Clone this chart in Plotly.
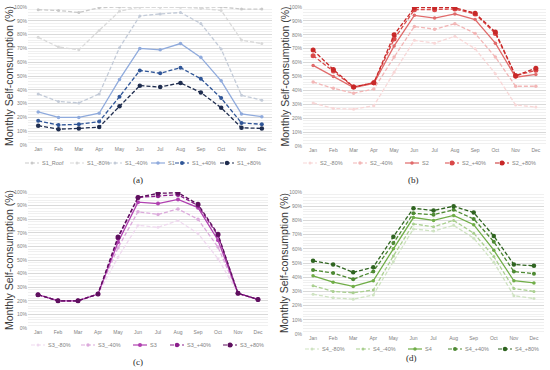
import plotly.graph_objects as go

months = ["Jan", "Feb", "Mar", "Apr", "May", "Jun", "Jul", "Aug", "Sep", "Oct", "Nov", "Dec"]

# Panel (a)
s1_names = ["S1_Roof", "S1_-80%", "S1_-40%", "S1", "S1_+40%", "S1_+80%"]
s1_roof = [98, 97.5, 96, 99.5, 100, 100, 100, 100, 100, 100, 98.5, 98.5]
s1_m80 = [78, 71, 69, 83, 97, 100, 100, 100, 99, 97.5, 76, 73.5]
s1_m40 = [37, 31.5, 30.5, 37, 70.5, 93.5, 95, 96, 88, 69.5, 36, 32.5]
s1_base = [24, 20, 20, 23, 47.5, 70, 69, 73.5, 63.5, 46.5, 22.5, 20.5]
s1_p40 = [17.5, 14.5, 15, 17, 35, 54, 52, 56, 48, 34, 16, 15]
s1_p80 = [14, 11.5, 12, 13, 28, 43, 42, 45, 38, 27, 12.5, 12]

# Panel (b)
s2_names = ["S2_-80%", "S2_-40%", "S2", "S2_+40%", "S2_+80%"]
s2_m80 = [31, 27, 26.5, 29, 53, 76, 74, 79, 70, 52, 29.5, 28]
s2_m40 = [46, 41.5, 38, 41, 64, 86, 84, 88, 81, 64, 43, 43]
s2_base = [58, 50, 42, 45, 72, 94, 92, 95, 91, 74, 49.5, 51.5]
s2_p40 = [65, 54, 42.5, 45.5, 77, 98, 98, 98.5, 95, 81, 50.5, 54.5]
s2_p80 = [69, 55, 42.5, 45.5, 80, 99.5, 99.5, 99.5, 95.5, 82, 50.5, 56]

# Panel (c)
s3_names = ["S3_-80%", "S3_-40%", "S3", "S3_+40%", "S3_+80%"]
s3_m80 = [24.5, 20, 20, 25, 52, 75.5, 74, 79, 69.5, 51, 25.5, 21]
s3_m40 = [24.5, 20, 20, 25, 59, 85.5, 83.5, 87.5, 80, 59.5, 25.5, 21]
s3_base = [24.5, 20, 20, 25, 63, 92.5, 91.5, 94.5, 88.5, 64.5, 25.5, 21]
s3_p40 = [24.5, 20, 20, 25, 66, 96, 97, 98, 90, 68, 25.5, 21]
s3_p80 = [24.5, 20, 20, 25, 67, 96, 99, 99.5, 91, 69, 25.5, 21]

# Panel (d)
s4_names = ["S4_-80%", "S4_-40%", "S4", "S4_+40%", "S4_+80%"]
s4_m80 = [28, 25.5, 24.5, 27.5, 51, 74, 72.5, 76.5, 67.5, 50.5, 27, 25]
s4_m40 = [34, 30, 29, 31, 55, 77.5, 75.5, 80, 71, 54.5, 32, 30]
s4_base = [41, 36.5, 33.5, 37.5, 60, 82, 80, 83.5, 77, 59, 37.5, 36]
s4_p40 = [45, 43, 38.5, 44, 64, 85, 84, 87.5, 81, 65, 44, 42.5]
s4_p80 = [51.5, 49, 43.5, 47, 68.5, 88.5, 87, 90, 85.5, 69, 49, 48]

yticks = [0, 10, 20, 30, 40, 50, 60, 70, 80, 90, 100]
ytick_labels = [f"{v}%" for v in yticks]
panel_labels = ["(a)", "(b)", "(c)", "(d)"]
ytitle = "Monthly Self-consumption (%)"

W, H = 550, 370
DASH = "4px,2px"


def X(px):
    return px / W


def Y(py):
    return 1 - py / H


panels = [
    dict(names=s1_names, data=[s1_roof, s1_m80, s1_m40, s1_base, s1_p40, s1_p80],
         colors=["#c9c9c9", "#d9d9d9", "#c3cbd8", "#8faadc", "#2f5597", "#1f2d4f"],
         dash=[DASH, DASH, DASH, "solid", DASH, DASH],
         msize=[3, 3, 3, 3.5, 4, 4.5],
         px=(28, 272), py=(7, 145), leg_y=163, leg_x=[32, 77, 115, 158, 182, 227],
         lab=(138, 180), tx=9),
    dict(names=s2_names, data=[s2_m80, s2_m40, s2_base, s2_p40, s2_p80],
         colors=["#f8d7d7", "#f2b6b6", "#e06a6a", "#d94848", "#c82828"],
         dash=[DASH, DASH, "solid", DASH, DASH],
         msize=[3, 3.5, 3.5, 5, 5],
         px=(303, 546), py=(7, 146), leg_y=163, leg_x=[310, 360, 412, 452, 502],
         lab=(413, 180), tx=284),
    dict(names=s3_names, data=[s3_m80, s3_m40, s3_base, s3_p40, s3_p80],
         colors=["#efd9ef", "#dcaadc", "#b040b0", "#8c1e8c", "#5e0f5e"],
         dash=[DASH, DASH, "solid", DASH, DASH],
         msize=[3, 3.5, 4, 4.5, 5],
         px=(28, 268), py=(192, 328), leg_y=345, leg_x=[38, 88, 140, 177, 230],
         lab=(138, 362), tx=9),
    dict(names=s4_names, data=[s4_m80, s4_m40, s4_base, s4_p40, s4_p80],
         colors=["#cfe3c2", "#a9cf8f", "#70ad47", "#4e8a33", "#2f6420"],
         dash=[DASH, DASH, "solid", DASH, DASH],
         msize=[3, 3, 3.5, 4, 4.5],
         px=(303, 544), py=(192, 334), leg_y=349, leg_x=[312, 363, 415, 455, 505],
         lab=(411, 358), tx=284),
]

fig = go.Figure()
layout = dict(width=W, height=H, margin=dict(l=0, r=0, t=0, b=0, autoexpand=False),
              paper_bgcolor="white", plot_bgcolor="white", annotations=[], shapes=[],
              showlegend=False,
              font=dict(family="Liberation Sans", color="#595959"))

for i, p in enumerate(panels):
    k = "" if i == 0 else str(i + 1)
    for name, vals, col, dsh, ms in zip(p["names"], p["data"], p["colors"], p["dash"], p["msize"]):
        fig.add_trace(go.Scatter(
            x=months, y=vals, name=name, mode="lines+markers",
            xaxis="x" + k, yaxis="y" + k,
            line=dict(color=col, width=1.3, dash=dsh),
            marker=dict(color=col, size=ms, symbol="circle"),
        ))
    x0, x1 = p["px"]
    ytop, ybot = p["py"]
    layout["xaxis" + k] = dict(
        domain=[X(x0), X(x1)], anchor="y" + k, type="category", automargin=False,
        range=[-0.5, 11.5], showgrid=False, zeroline=False, showline=False,
        ticks="", ticklen=0, tickfont=dict(size=5, color="#7f7f7f"), fixedrange=True,
    )
    layout["yaxis" + k] = dict(
        domain=[Y(ybot), Y(ytop)], anchor="x" + k, range=[0, 100], automargin=False,
        tickvals=yticks, ticktext=ytick_labels, showgrid=True, gridcolor="#d9d9d9",
        gridwidth=0.8, zeroline=False, showline=False, ticks="",
        tickfont=dict(size=5, color="#7f7f7f"),
        minor=dict(dtick=2, showgrid=True, gridcolor="#f0f0f0", gridwidth=0.6),
    )
    # legend drawn as a row of samples below each panel
    ly = p["leg_y"]
    for name, col, dsh, ms, cx in zip(p["names"], p["colors"], p["dash"], p["msize"], p["leg_x"]):
        layout["shapes"].append(dict(
            type="line", xref="paper", yref="paper", x0=X(cx - 7), x1=X(cx + 7),
            y0=Y(ly), y1=Y(ly), line=dict(color=col, width=1.2, dash=dsh),
        ))
        r = ms / 2
        layout["shapes"].append(dict(
            type="circle", xref="paper", yref="paper", x0=X(cx - r), x1=X(cx + r),
            y0=Y(ly + r), y1=Y(ly - r), fillcolor=col, line=dict(color=col, width=0),
        ))
        layout["annotations"].append(dict(
            text=name, x=X(cx + 8), y=Y(ly), xref="paper", yref="paper",
            showarrow=False, xanchor="left", yanchor="middle",
            font=dict(size=5.5, color="#7f7f7f"),
        ))
    ax, ay = p["lab"]
    layout["annotations"].append(dict(
        text=panel_labels[i], x=X(ax), y=Y(ay), xref="paper", yref="paper",
        showarrow=False, font=dict(size=9, family="Liberation Serif", color="#262626"),
        xanchor="center", yanchor="middle",
    ))
    layout["annotations"].append(dict(
        text=ytitle, x=X(p["tx"]), y=Y((ytop + ybot) / 2), xref="paper", yref="paper",
        showarrow=False, textangle=-90,
        font=dict(size=10.5, family="Liberation Sans", color="#3a3a3a"),
        xanchor="center", yanchor="middle",
    ))

fig.update_layout(**layout)
fig.write_html("out.html", config={"displayModeBar": False},
               post_script="document.body.style.margin='0px';document.body.style.padding='0px';")
